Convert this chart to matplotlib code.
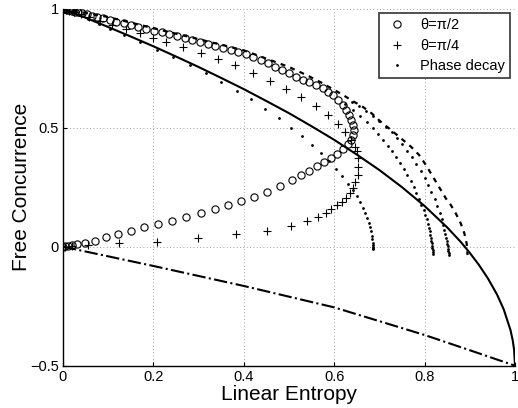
import matplotlib
matplotlib.use('agg')
import matplotlib.pyplot as plt
import numpy as np

plt.rcParams['font.family'] = ['Liberation Sans', 'DejaVu Sans']

# theta = pi/2 (open circles): upper arc then back along the lower branch
circ_x = [0.000, 0.004, 0.008, 0.013, 0.019, 0.026, 0.034, 0.043, 0.053, 0.064,
          0.076, 0.089, 0.103, 0.118, 0.134, 0.150, 0.167, 0.184, 0.201, 0.218,
          0.235, 0.252, 0.269, 0.286, 0.303, 0.320, 0.337, 0.354, 0.371, 0.388,
          0.405, 0.421, 0.437, 0.453, 0.469, 0.485, 0.500, 0.515, 0.530, 0.545,
          0.560, 0.575, 0.586, 0.597, 0.608, 0.619, 0.626, 0.632, 0.637, 0.641,
          0.643, 0.641, 0.637, 0.630, 0.619, 0.607, 0.594, 0.578, 0.561, 0.544,
          0.527, 0.506, 0.479, 0.451, 0.422, 0.394, 0.365, 0.336, 0.305, 0.273,
          0.241, 0.211, 0.179, 0.150, 0.122, 0.095, 0.071, 0.049, 0.032, 0.019,
          0.010, 0.004, 0.001]
circ_y = [1.000, 0.998, 0.996, 0.994, 0.991, 0.988, 0.984, 0.980, 0.976, 0.971,
          0.965, 0.959, 0.953, 0.946, 0.938, 0.931, 0.923, 0.915, 0.908, 0.900,
          0.892, 0.884, 0.876, 0.868, 0.860, 0.852, 0.844, 0.835, 0.827, 0.818,
          0.809, 0.798, 0.785, 0.771, 0.757, 0.743, 0.729, 0.715, 0.702, 0.693,
          0.680, 0.665, 0.651, 0.637, 0.616, 0.595, 0.574, 0.553, 0.532, 0.511,
          0.490, 0.469, 0.450, 0.430, 0.410, 0.391, 0.372, 0.354, 0.337, 0.320,
          0.301, 0.279, 0.253, 0.230, 0.209, 0.190, 0.175, 0.158, 0.141, 0.126,
          0.110, 0.095, 0.081, 0.066, 0.052, 0.039, 0.026, 0.016, 0.010, 0.006,
          0.003, 0.001, 0.000]

# theta = pi/4 (plus signs)
plus_x = [0.000, 0.002, 0.006, 0.013, 0.024, 0.039, 0.058, 0.081, 0.108, 0.140,
          0.170, 0.200, 0.229, 0.266, 0.306, 0.343, 0.380, 0.420, 0.457, 0.494,
          0.527, 0.559, 0.586, 0.608, 0.625, 0.637, 0.645, 0.650, 0.652, 0.653,
          0.652, 0.646, 0.641, 0.635, 0.626, 0.617, 0.606, 0.594, 0.581, 0.564,
          0.539, 0.505, 0.451, 0.383, 0.299, 0.208, 0.124, 0.056, 0.020, 0.005]
plus_y = [1.000, 0.999, 0.996, 0.992, 0.985, 0.976, 0.964, 0.950, 0.933, 0.913,
          0.897, 0.876, 0.861, 0.840, 0.815, 0.790, 0.763, 0.731, 0.697, 0.663,
          0.629, 0.591, 0.553, 0.515, 0.483, 0.448, 0.420, 0.400, 0.371, 0.336,
          0.301, 0.273, 0.245, 0.224, 0.203, 0.189, 0.175, 0.158, 0.143, 0.125,
          0.107, 0.087, 0.067, 0.052, 0.035, 0.021, 0.014, 0.006, 0.002, 0.000]

# phase decay (small dots), four trajectories
pd_a_x = [0.000, 0.003, 0.010, 0.020, 0.035, 0.055, 0.080, 0.105, 0.135, 0.170,
          0.207, 0.244, 0.280, 0.317, 0.350, 0.385, 0.417, 0.447, 0.478, 0.505,
          0.529, 0.551, 0.571, 0.588, 0.603, 0.617, 0.630, 0.641, 0.650, 0.658,
          0.664, 0.669, 0.673, 0.676, 0.679, 0.681, 0.683, 0.684, 0.685, 0.6855,
          0.686, 0.686, 0.6865]
pd_a_y = [1.000, 0.997, 0.992, 0.984, 0.972, 0.956, 0.935, 0.913, 0.889, 0.859,
          0.828, 0.796, 0.763, 0.728, 0.693, 0.655, 0.619, 0.580, 0.540, 0.500,
          0.465, 0.428, 0.392, 0.358, 0.325, 0.295, 0.265, 0.237, 0.211, 0.186,
          0.163, 0.142, 0.121, 0.101, 0.082, 0.064, 0.047, 0.031, 0.017, 0.008,
          0.000, -0.006, -0.011]
pd_b_x = [0.625, 0.642, 0.658, 0.672, 0.685, 0.697, 0.708, 0.718, 0.728, 0.737,
          0.746, 0.754, 0.762, 0.769, 0.776, 0.782, 0.788, 0.793, 0.798, 0.802,
          0.805, 0.808, 0.810, 0.812, 0.813, 0.814, 0.815, 0.816, 0.817, 0.817,
          0.818, 0.818, 0.819]
pd_b_y = [0.600, 0.575, 0.550, 0.525, 0.500, 0.475, 0.450, 0.425, 0.400, 0.375,
          0.350, 0.325, 0.300, 0.275, 0.250, 0.225, 0.200, 0.177, 0.155, 0.134,
          0.115, 0.097, 0.080, 0.064, 0.050, 0.037, 0.025, 0.014, 0.004, -0.006,
          -0.015, -0.024, -0.032]
pd_c_x = [0.640, 0.655, 0.670, 0.685, 0.700, 0.714, 0.727, 0.740, 0.751, 0.762,
          0.772, 0.782, 0.791, 0.800, 0.808, 0.815, 0.822, 0.828, 0.833, 0.838,
          0.841, 0.844, 0.846, 0.848, 0.849, 0.850, 0.851, 0.852, 0.852, 0.853,
          0.853]
pd_c_y = [0.610, 0.592, 0.572, 0.551, 0.528, 0.505, 0.480, 0.455, 0.430, 0.403,
          0.376, 0.348, 0.320, 0.290, 0.260, 0.230, 0.200, 0.171, 0.143, 0.116,
          0.093, 0.072, 0.054, 0.038, 0.024, 0.012, 0.002, -0.008, -0.017, -0.026,
          -0.035]
pd_d_x = [0.000, 0.100, 0.200, 0.300, 0.400, 0.450, 0.500, 0.540, 0.571, 0.597,
          0.619, 0.641, 0.663, 0.683, 0.703, 0.726, 0.748, 0.770, 0.788, 0.803,
          0.814, 0.825, 0.836, 0.847, 0.858, 0.869, 0.880, 0.888, 0.893, 0.895]
pd_d_y = [1.000, 0.965, 0.918, 0.872, 0.825, 0.790, 0.755, 0.720, 0.690, 0.662,
          0.638, 0.612, 0.588, 0.560, 0.525, 0.490, 0.455, 0.420, 0.385, 0.343,
          0.308, 0.273, 0.238, 0.203, 0.175, 0.140, 0.098, 0.056, 0.014, -0.035]

# solid reference curve
ref_x = [0.00, 0.05, 0.10, 0.15, 0.20, 0.25, 0.30, 0.35, 0.40, 0.45, 0.50, 0.55,
         0.60, 0.65, 0.70, 0.75, 0.80, 0.85, 0.88, 0.90, 0.92, 0.94, 0.96, 0.975,
         0.99, 0.995, 0.998, 1.00]
ref_y = [1.000, 0.962, 0.923, 0.883, 0.842, 0.799, 0.755, 0.709, 0.662, 0.612,
         0.561, 0.506, 0.449, 0.387, 0.322, 0.250, 0.171, 0.081, 0.020, -0.026,
         -0.076, -0.133, -0.200, -0.263, -0.350, -0.394, -0.433, -0.500]

# dash-dot curve
low_x = [0.0, 0.2, 0.4, 0.6, 0.8, 0.9, 1.0]
low_y = [0.0, -0.081, -0.165, -0.255, -0.371, -0.435, -0.5]

xticks = [0, 0.2, 0.4, 0.6, 0.8, 1]
xtick_labels = ['0', '0.2', '0.4', '0.6', '0.8', '1']
yticks = [-0.5, 0, 0.5, 1]
ytick_labels = ['\u22120.5', '0', '0.5', '1']

fig = plt.figure(figsize=(5.18, 4.08), dpi=100)
ax = fig.add_axes([0.1216, 0.1037, 0.8726, 0.875])

ax.plot(ref_x, ref_y, '-', color='black', lw=1.5, zorder=2)
ax.plot(low_x, low_y, '-.', color='black', lw=1.5, zorder=2)

ax.plot(circ_x, circ_y, 'o', mfc='none', mec='black', ms=5.2, mew=0.8,
        label='\u03b8=\u03c0/2', zorder=3)
ax.plot(plus_x, plus_y, '+', color='black', ms=5.5, mew=0.8,
        label='\u03b8=\u03c0/4', zorder=3)
ax.plot(pd_a_x, pd_a_y, 'o', color='black', ms=2.0, mew=0,
        label='Phase decay', zorder=3)
ax.plot(pd_b_x, pd_b_y, 'o', color='black', ms=2.0, mew=0, zorder=3)
ax.plot(pd_c_x, pd_c_y, 'o', color='black', ms=2.0, mew=0, zorder=3)
ax.plot(pd_d_x, pd_d_y, color='black', lw=1.6, dashes=(2.2, 2.4), zorder=3)

ax.set_xlim(0, 1)
ax.set_ylim(-0.5, 1)
ax.set_xticks(xticks)
ax.set_xticklabels(xtick_labels)
ax.set_yticks(yticks)
ax.set_yticklabels(ytick_labels)
ax.tick_params(direction='in', length=3, labelsize=10.5, pad=3)

ax.grid(True, linestyle=(0, (1, 3)), color='#808080', linewidth=0.6)
ax.set_axisbelow(True)
ax.spines['top'].set_visible(False)
ax.spines['right'].set_visible(False)
ax.spines['left'].set_linewidth(1.0)
ax.spines['bottom'].set_linewidth(1.0)

ax.set_xlabel('Linear Entropy', fontsize=15, labelpad=1)
ax.set_ylabel('Free Concurrence', fontsize=15, labelpad=-1)

leg = ax.legend(loc='upper right', bbox_to_anchor=(0.99, 0.988), fontsize=10.5,
                frameon=True, fancybox=False, edgecolor='black',
                handlelength=1.8, handletextpad=0.7, borderpad=0.35,
                borderaxespad=0.0, labelspacing=0.45, markerscale=1.0)
leg.get_frame().set_linewidth(1.2)

fig.savefig('out.png', dpi=100)
